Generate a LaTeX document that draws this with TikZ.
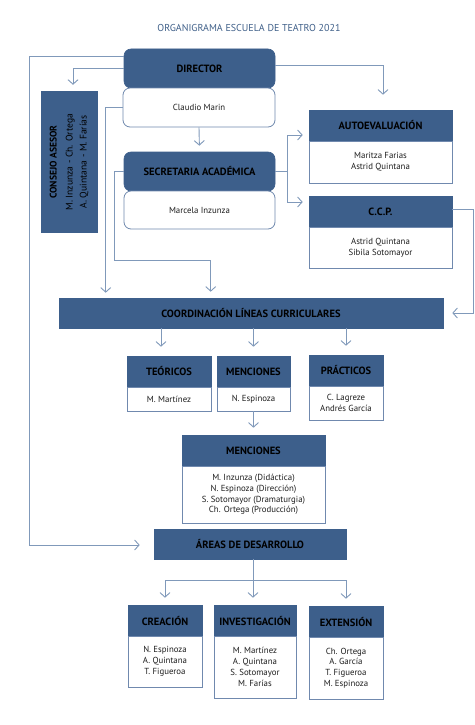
\documentclass[tikz,border=0pt]{standalone}
\usepackage{fontspec}
\setmainfont{PT Sans}
\usetikzlibrary{arrows.meta,calc}
\definecolor{hdr}{HTML}{3D5F8B}
\definecolor{bord}{HTML}{7089AE}
\definecolor{ln}{HTML}{8099BA}
\definecolor{ttl}{HTML}{41618A}
\definecolor{txt}{HTML}{1E1E1E}
\begin{document}
\begin{tikzpicture}[x=1pt,y=-1pt,
 hbox/.style={fill=hdr,draw=hdr,line width=0.6pt,font=\bfseries\fontsize{10.5}{12}\selectfont,text=black,inner sep=0pt},
 bbox/.style={fill=white,draw=bord,line width=0.8pt,font=\fontsize{8.8}{10.8}\selectfont,text=txt,align=center,inner sep=0pt},
 conn/.style={draw=ln,line width=0.9pt},
 arr/.style={conn,-{Straight Barb[length=4.5pt,width=10pt,line width=0.9pt]}},
]
\useasboundingbox[fill=white] (0,0) rectangle (474,725);

\node[font=\fontsize{10}{12}\selectfont,text=ttl] (title) at (249,28) {ORGANIGRAMA ESCUELA DE TEATRO 2021};

% top block
\node[hbox,rounded corners=7pt,minimum width=151pt,minimum height=39pt] (dir) at (199.5,68.5) {DIRECTOR};
\node[bbox,rounded corners=7pt,minimum width=152pt,minimum height=39pt] (cla) at (199,107.5) {Claudio Marin};
\node[hbox,rounded corners=7pt,minimum width=151pt,minimum height=39pt] (sec) at (199.5,171.5) {SECRETARIA ACADÉMICA};
\node[bbox,rounded corners=7pt,minimum width=151pt,minimum height=38pt] (mar) at (199.5,210) {Marcela Inzunza};

% consejo
\node[fill=hdr,minimum width=57pt,minimum height=142pt,inner sep=0pt] (cons) at (69.5,162) {};
\node[rotate=90,align=center,text=black,font=\fontsize{9.6}{14}\selectfont] (constxt) at ([xshift=-0.5pt]cons.center)
  {\textbf{CONSEJO ASESOR}\\[2pt] M. Inzunza - Ch. Ortega\\ A. Quintana - M. Farías};

% autoevaluacion & ccp
\node[hbox,minimum width=143pt,minimum height=31pt] (auth) at (380.5,125.5) {AUTOEVALUACIÓN};
\node[bbox,minimum width=143pt,minimum height=42pt] (autb) at (380.5,162) {Maritza Farias\\Astrid Quintana};
\node[hbox,minimum width=143pt,minimum height=31pt] (ccph) at (380.5,211.5) {C.C.P.};
\node[bbox,minimum width=143pt,minimum height=41pt] (ccpb) at (380.5,247.5) {Astrid Quintana\\Sibila Sotomayor};

% coordinacion
\node[hbox,minimum width=384pt,minimum height=30pt] (coord) at (251,313) {COORDINACIÓN LÍNEAS CURRICULARES};

\node[hbox,minimum width=84pt,minimum height=31pt] (teoh) at (169,371.5) {TEÓRICOS};
\node[bbox,minimum width=84pt,minimum height=24pt] (teob) at (169,399) {M. Martínez};
\node[hbox,minimum width=73pt,minimum height=31pt] (menh) at (253.5,371.5) {MENCIONES};
\node[bbox,minimum width=73pt,minimum height=24pt] (menb) at (253.5,399) {N. Espinoza};
\node[hbox,minimum width=74pt,minimum height=31pt] (prah) at (346,370.5) {PRÁCTICOS};
\node[bbox,minimum width=74pt,minimum height=34pt] (prab) at (346,403) {C. Lagreze\\Andrés García};

\node[hbox,minimum width=143pt,minimum height=31pt] (mench) at (253.5,450.5) {MENCIONES};
\node[bbox,minimum width=143pt,minimum height=57pt] (mencb) at (253.5,494.5)
  {M. Inzunza (Didáctica)\\N. Espinoza (Dirección)\\S. Sotomayor (Dramaturgia)\\Ch. Ortega (Producción)};

\node[hbox,minimum width=192pt,minimum height=30pt] (areas) at (250,544) {ÁREAS DE DESARROLLO};

\node[hbox,minimum width=74pt,minimum height=31pt] (creh) at (165,620.5) {CREACIÓN};
\node[bbox,minimum width=74pt,minimum height=51pt] (creb) at (165,661.5) {N. Espinoza\\A. Quintana\\T. Figueroa};
\node[hbox,minimum width=82pt,minimum height=31pt] (invh) at (255,620.5) {INVESTIGACIÓN};
\node[bbox,minimum width=82pt,minimum height=62pt] (invb) at (255,667) {M. Martínez\\A. Quintana\\S. Sotomayor\\M. Farías};
\node[hbox,minimum width=74pt,minimum height=31pt] (exth) at (346,621.5) {EXTENSIÓN};
\node[bbox,minimum width=74pt,minimum height=62pt] (extb) at (346,668) {Ch. Ortega\\A. García\\T. Figueroa\\M. Espinoza};

% helper coordinates
\coordinate (outl) at (29,545);
\coordinate (sbend) at (114,260);
\coordinate (sr) at (287,171.5);
\coordinate (cr) at (473,313);
\coordinate (abr) at (253,580);
\coordinate (teot) at ([xshift=-8pt]teoh.north);

% connectors
\draw[arr,shorten >=14pt] ([yshift=-8pt]dir.north west) -| (outl) -- (outl -| areas.west);
\draw[arr,shorten >=6pt] (dir.west) -| ([xshift=3.5pt]cons.north);
\draw[arr,shorten >=15pt] ([yshift=3.5pt]dir.east) -| ([xshift=2.5pt]auth.north);
\draw[arr,shorten >=5pt] (cla.west) -| ($(coord.north west)+(47,0)$);
\draw[arr,shorten >=6pt] (cla.south) -- (sec.north);
\draw[arr,shorten >=6pt] (sec.west) -| (sbend) -| ($(coord.north west)+(152,0)$);
\draw[conn] (sec.east) -- (sr);
\draw[arr,shorten >=6pt] (sr) |- ([yshift=-9.5pt]auth.west);
\draw[arr,shorten >=6pt] (sr) |- ([yshift=9.5pt]ccph.west);
\draw[arr,shorten >=9pt] ([yshift=2.5pt]ccph.east) -| (cr) -- (coord.east);
\draw[arr,shorten >=9pt] (coord.south -| teot) -- (teot);
\draw[arr,shorten >=9pt] (coord.south -| menh.north) -- (menh.north);
\draw[arr,shorten >=9pt] (coord.south -| prah.north) -- (prah.north);
\draw[arr,shorten >=7pt] (menb.south) -- (mench.north);
\draw[conn] (areas.south -| abr) -- (abr);
\draw[arr,shorten >=7pt] (abr) -- (abr -| creh.north) -- (creh.north);
\draw[arr,shorten >=7pt] (abr) -- (invh.north -| abr);
\draw[arr,shorten >=7pt] (abr) -- (abr -| exth.north) -- (exth.north);
\end{tikzpicture}
\end{document}
